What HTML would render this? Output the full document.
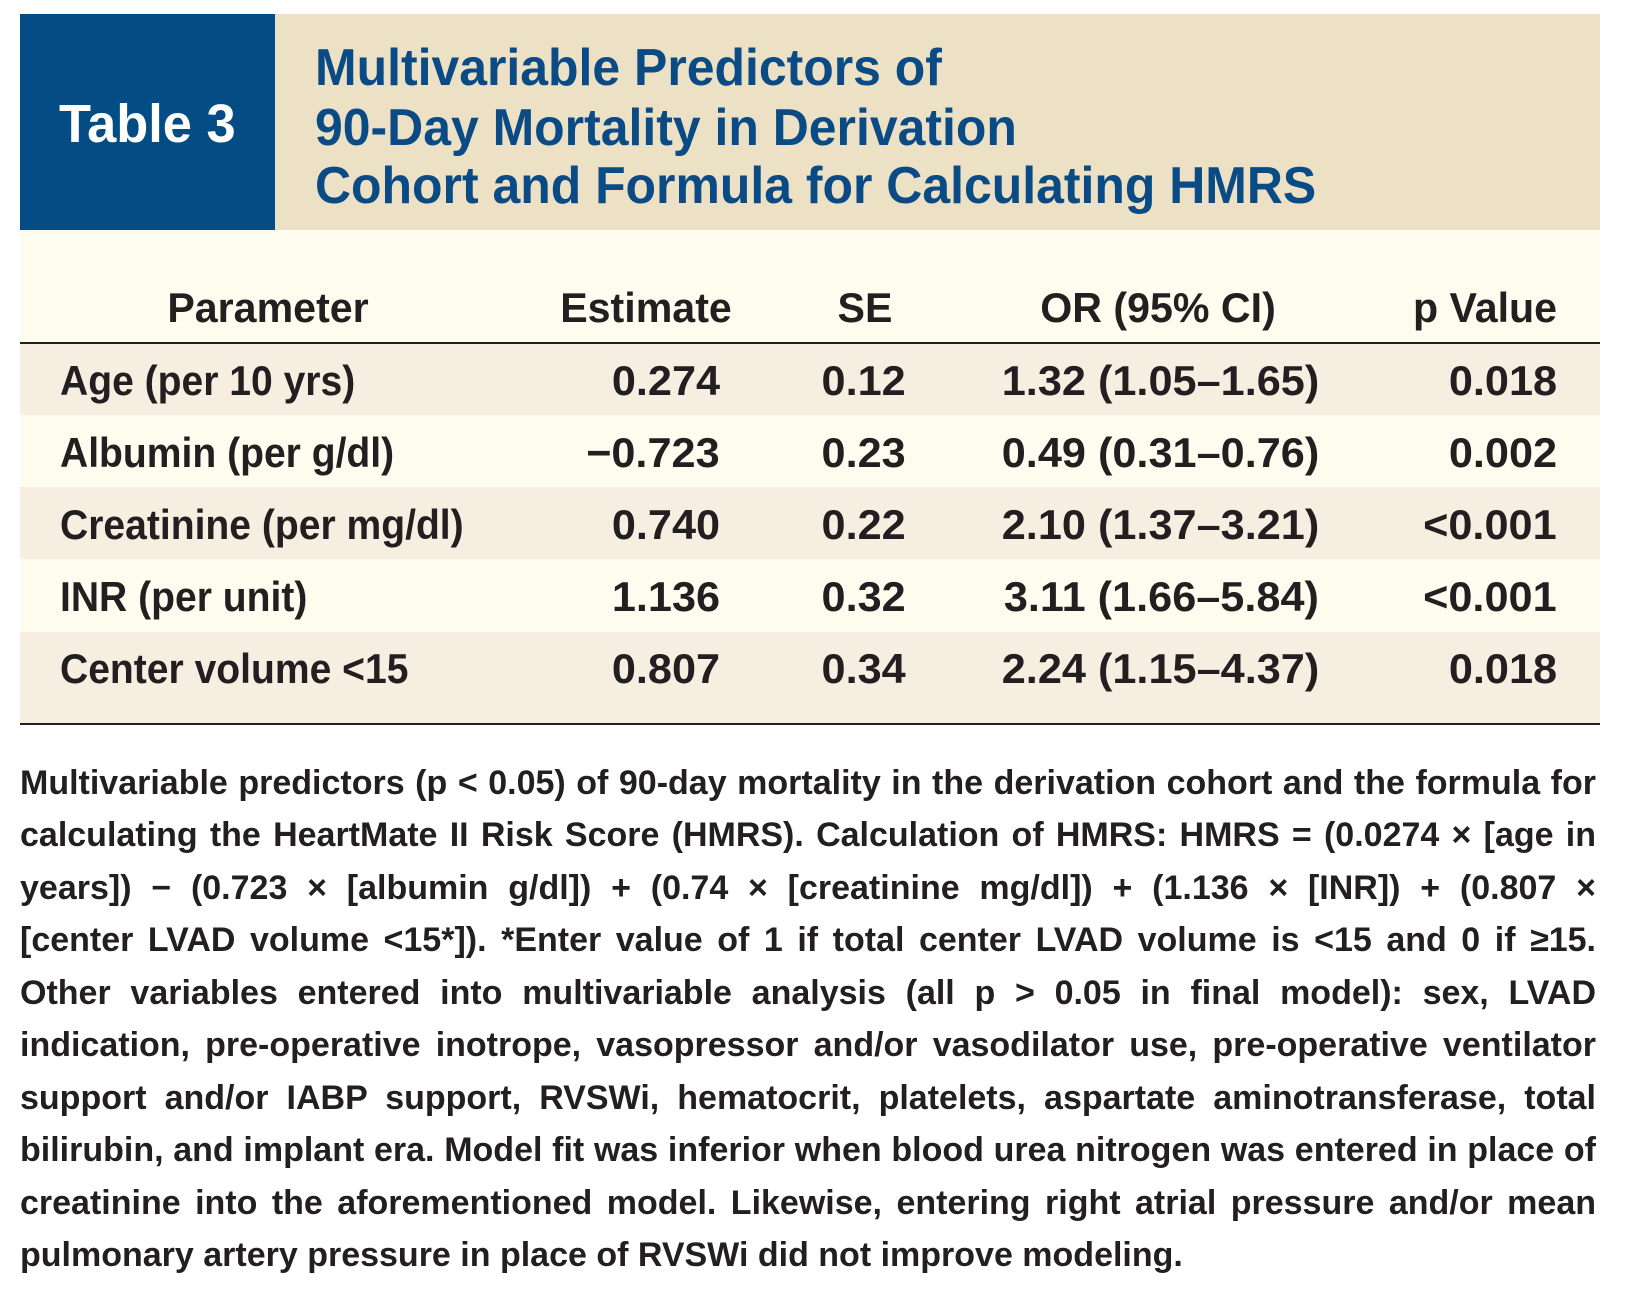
<!DOCTYPE html>
<html><head><meta charset="utf-8"><style>
html,body{margin:0;padding:0;background:#fff}
#root{position:relative;width:1650px;height:1290px;overflow:hidden;font-family:"Liberation Sans",sans-serif;font-weight:bold;color:#231f20}
.a{position:absolute;white-space:nowrap}
.t{position:absolute;white-space:nowrap;height:60px;line-height:60px}
.L{transform-origin:left center;transform:scaleX(.93)}
.R{transform-origin:right center;transform:scaleX(1.03)}
.C{transform:translateX(-50%) scaleX(.98)}
.hd{font-size:42px}
.bd{font-size:42px}
.cap{position:absolute;left:20px;width:1576px;font-size:34px;height:50px;line-height:50px;text-align:justify;text-align-last:justify;white-space:nowrap;font-weight:bold}
</style></head><body>
<div id="root">
<div class="a" style="left:20px;top:14px;width:1580px;height:216px;background:#ede1c5"></div>
<div class="a" style="left:20px;top:14px;width:255px;height:216px;background:#034d84"></div>
<div class="t" style="left:59px;top:94px;font-size:54px;color:#fff;transform-origin:left center;transform:scaleX(.97)">Table 3</div>
<div class="t" style="left:315px;top:38px;font-size:52px;color:#0a4b85;transform-origin:left center;transform:scaleX(.96)">Multivariable Predictors of</div>
<div class="t" style="left:315px;top:98px;font-size:52px;color:#0a4b85;transform-origin:left center;transform:scaleX(.96)">90-Day Mortality in Derivation</div>
<div class="t" style="left:315px;top:156px;font-size:52px;color:#0a4b85;transform-origin:left center;transform:scaleX(.96)">Cohort and Formula for Calculating HMRS</div>

<div class="a" style="left:20px;top:230px;width:1580px;height:113px;background:#fefcee"></div>
<div class="a" style="left:20px;top:342px;width:1580px;height:2px;background:#231f20"></div>
<div class="a" style="left:20px;top:344px;width:1580px;height:71px;background:#f6eee0"></div>
<div class="a" style="left:20px;top:415px;width:1580px;height:72px;background:#fefcee"></div>
<div class="a" style="left:20px;top:487px;width:1580px;height:72px;background:#f6eee0"></div>
<div class="a" style="left:20px;top:559px;width:1580px;height:73px;background:#fefcee"></div>
<div class="a" style="left:20px;top:632px;width:1580px;height:91px;background:#f6eee0"></div>
<div class="a" style="left:20px;top:723px;width:1580px;height:2px;background:#231f20"></div>

<div class="t hd C" style="left:268px;top:278px">Parameter</div>
<div class="t hd C" style="left:646px;top:278px">Estimate</div>
<div class="t hd C" style="left:865px;top:278px">SE</div>
<div class="t hd C" style="left:1158px;top:278px">OR (95% CI)</div>
<div class="t hd R" style="right:93px;top:278px;transform:scaleX(.98)">p Value</div>

<div class="t bd L" style="left:60px;top:351px">Age (per 10 yrs)</div>
<div class="t bd R" style="right:930px;top:351px">0.274</div>
<div class="t bd R" style="right:744px;top:351px">0.12</div>
<div class="t bd R" style="right:331px;top:351px">1.32 (1.05–1.65)</div>
<div class="t bd R" style="right:93px;top:351px">0.018</div>

<div class="t bd L" style="left:60px;top:423px">Albumin (per g/dl)</div>
<div class="t bd R" style="right:930px;top:423px">−0.723</div>
<div class="t bd R" style="right:744px;top:423px">0.23</div>
<div class="t bd R" style="right:331px;top:423px">0.49 (0.31–0.76)</div>
<div class="t bd R" style="right:93px;top:423px">0.002</div>

<div class="t bd L" style="left:60px;top:495px">Creatinine (per mg/dl)</div>
<div class="t bd R" style="right:930px;top:495px">0.740</div>
<div class="t bd R" style="right:744px;top:495px">0.22</div>
<div class="t bd R" style="right:331px;top:495px">2.10 (1.37–3.21)</div>
<div class="t bd R" style="right:93px;top:495px">&lt;0.001</div>

<div class="t bd L" style="left:60px;top:567px">INR (per unit)</div>
<div class="t bd R" style="right:930px;top:567px">1.136</div>
<div class="t bd R" style="right:744px;top:567px">0.32</div>
<div class="t bd R" style="right:331px;top:567px">3.11 (1.66–5.84)</div>
<div class="t bd R" style="right:93px;top:567px">&lt;0.001</div>

<div class="t bd L" style="left:60px;top:639px">Center volume &lt;15</div>
<div class="t bd R" style="right:930px;top:639px">0.807</div>
<div class="t bd R" style="right:744px;top:639px">0.34</div>
<div class="t bd R" style="right:331px;top:639px">2.24 (1.15–4.37)</div>
<div class="t bd R" style="right:93px;top:639px">0.018</div>

<div class="cap" style="top:758px">Multivariable predictors (p &lt; 0.05) of 90-day mortality in the derivation cohort and the formula for</div>
<div class="cap" style="top:810px">calculating the HeartMate II Risk Score (HMRS). Calculation of HMRS: HMRS = (0.0274 × [age in</div>
<div class="cap" style="top:863px">years]) − (0.723 × [albumin g/dl]) + (0.74 × [creatinine mg/dl]) + (1.136 × [INR]) + (0.807 ×</div>
<div class="cap" style="top:915px">[center LVAD volume &lt;15*]). *Enter value of 1 if total center LVAD volume is &lt;15 and 0 if ≥15.</div>
<div class="cap" style="top:968px">Other variables entered into multivariable analysis (all p &gt; 0.05 in final model): sex, LVAD</div>
<div class="cap" style="top:1020px">indication, pre-operative inotrope, vasopressor and/or vasodilator use, pre-operative ventilator</div>
<div class="cap" style="top:1073px">support and/or IABP support, RVSWi, hematocrit, platelets, aspartate aminotransferase, total</div>
<div class="cap" style="top:1125px">bilirubin, and implant era. Model fit was inferior when blood urea nitrogen was entered in place of</div>
<div class="cap" style="top:1178px">creatinine into the aforementioned model. Likewise, entering right atrial pressure and/or mean</div>
<div class="cap" style="top:1230px;text-align:left;text-align-last:left">pulmonary artery pressure in place of RVSWi did not improve modeling.</div>
</div>
</body></html>
